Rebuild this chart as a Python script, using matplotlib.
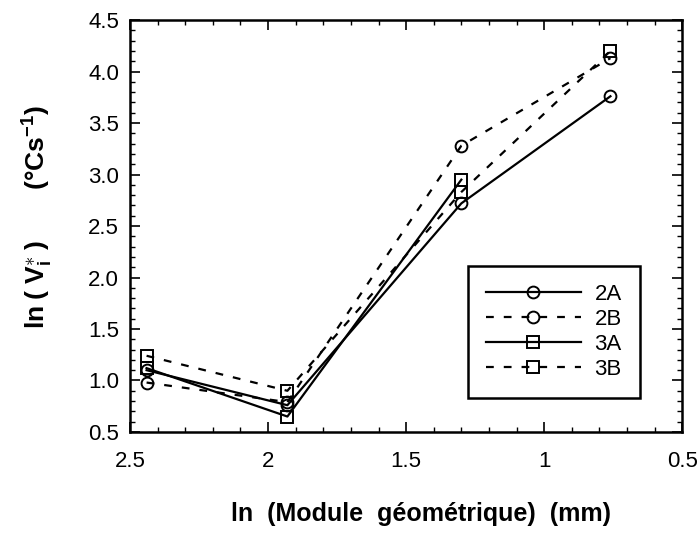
import numpy as np
import matplotlib
matplotlib.use("Agg")
import matplotlib.pyplot as plt
from matplotlib.ticker import MultipleLocator

plt.rcParams['font.family'] = ['Liberation Sans', 'DejaVu Sans']
plt.rcParams['mathtext.fontset'] = 'custom'
plt.rcParams['mathtext.rm'] = 'Liberation Sans:bold'
plt.rcParams['mathtext.it'] = 'Liberation Sans:bold'
plt.rcParams['mathtext.bf'] = 'Liberation Sans:bold'

# ln(geometric modulus) for the four casting sections
ln_module = [2.44, 1.93, 1.30, 0.76]

serie_2A = [1.10, 0.76, 2.72, 3.76]
serie_2B = [0.98, 0.79, 3.28, 4.13]
serie_3A = [1.12, 0.65, 2.95, np.nan]
serie_3B = [1.24, 0.90, 2.83, 4.20]

labels = ["2A", "2B", "3A", "3B"]

fig = plt.figure(figsize=(6.99, 5.42), dpi=100)
ax = fig.add_axes([0.186, 0.203, 0.790, 0.760])

dash = (0, (3.5, 4.5))
styles = [
    (serie_2A, '-', 'o'),
    (serie_2B, dash, 'o'),
    (serie_3A, '-', 's'),
    (serie_3B, dash, 's'),
]
for (vals, ls, mk), lab in zip(styles, labels):
    ax.plot(ln_module, vals, color='black', linestyle=ls, linewidth=1.6,
            marker=mk, markersize=8.5, markerfacecolor='none',
            markeredgecolor='black', markeredgewidth=1.4, label=lab)

ax.set_xlim(2.5, 0.5)
ax.set_ylim(0.5, 4.5)
ax.xaxis.set_minor_locator(MultipleLocator(0.1))
ax.yaxis.set_minor_locator(MultipleLocator(0.1))
ax.set_xticks([2.5, 2.0, 1.5, 1.0, 0.5])
ax.set_xticklabels(["2.5", "2", "1.5", "1", "0.5"])
ax.set_yticks(np.arange(0.5, 4.51, 0.5))
ax.set_yticklabels([f"{v:.1f}" for v in np.arange(0.5, 4.51, 0.5)])

ax.tick_params(which='both', direction='in', top=True, right=True,
               labelsize=16)
ax.tick_params(axis='x', which='major', pad=14)
ax.tick_params(axis='y', which='major', pad=8)
ax.tick_params(which='major', length=7, width=1.2)
ax.tick_params(which='minor', length=3.5, width=1.0)
for s in ax.spines.values():
    s.set_linewidth(1.8)

ax.set_xlabel("ln  (Module  géométrique)  (mm)", fontsize=18,
              fontweight='bold')
ax.xaxis.set_label_coords(0.527, -0.170)
ax.set_ylabel(r"ln$\;(\;\mathrm{V}_{\mathrm{i}}^{\ast}\;)$       (°Cs$^{\mathrm{-1}}$)",
              fontsize=19, fontweight='bold')
ax.yaxis.set_label_coords(-0.135, 0.522)

leg = ax.legend(loc='lower right', bbox_to_anchor=(0.943, 0.056),
                fontsize=16, handlelength=4.3, handletextpad=0.6,
                labelspacing=0.18, borderpad=0.8, fancybox=False,
                frameon=True, framealpha=1, edgecolor='black')
leg.get_frame().set_linewidth(1.8)

fig.savefig("out.png", dpi=100)
